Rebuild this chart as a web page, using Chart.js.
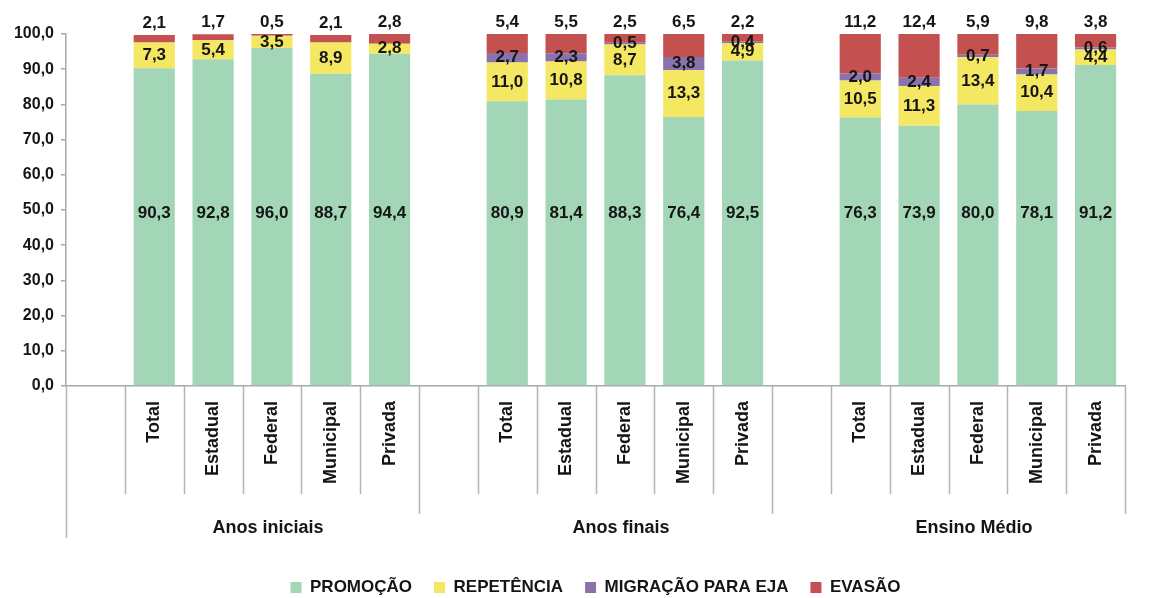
<!DOCTYPE html>
<html>
<head>
<meta charset="utf-8">
<script src="https://cdn.jsdelivr.net/npm/chart.js@4/dist/chart.umd.min.js"></script>
<style>
  html, body { margin: 0; padding: 0; background: #fff; }
  #wrap { width: 1171px; height: 598px; }
</style>
</head>
<body>
<div id="wrap"><canvas id="myChart"></canvas></div>
<script>
// categorias (vazias = espaço entre grupos)
const categorias = ['', 'Total', 'Estadual', 'Federal', 'Municipal', 'Privada',
                    '', 'Total', 'Estadual', 'Federal', 'Municipal', 'Privada',
                    '', 'Total', 'Estadual', 'Federal', 'Municipal', 'Privada'];
const grupos = ['Anos iniciais', 'Anos finais', 'Ensino Médio'];
const centroGrupo = [3, 9, 15];

const promocao   = [null, 90.3, 92.8, 96.0, 88.7, 94.4, null, 80.9, 81.4, 88.3, 76.4, 92.5, null, 76.3, 73.9, 80.0, 78.1, 91.2];
const repetencia = [null, 7.3, 5.4, 3.5, 8.9, 2.8,      null, 11.0, 10.8, 8.7, 13.3, 4.9,   null, 10.5, 11.3, 13.4, 10.4, 4.4];
const migracao   = [null, null, null, null, null, null, null, 2.7, 2.3, 0.5, 3.8, 0.4,      null, 2.0, 2.4, 0.7, 1.7, 0.6];
const evasao     = [null, 2.1, 1.7, 0.5, 2.1, 2.8,      null, 5.4, 5.5, 2.5, 6.5, 2.2,      null, 11.2, 12.4, 5.9, 9.8, 3.8];

const yTicks = [0, 10, 20, 30, 40, 50, 60, 70, 80, 90, 100];

const FONTE = '"Liberation Sans", Arial, sans-serif';
const fmt = v => v.toFixed(1).replace('.', ',');

// rótulos dos valores
const rotulos = {
  id: 'rotulos',
  afterDatasetsDraw(chart) {
    const ctx = chart.ctx;
    const y = chart.scales.y;
    ctx.save();
    ctx.font = 'bold 17px ' + FONTE;
    ctx.fillStyle = '#151515';
    ctx.textAlign = 'center';
    ctx.textBaseline = 'middle';
    chart.data.datasets.forEach((ds, di) => {
      const meta = chart.getDatasetMeta(di);
      meta.data.forEach((bar, i) => {
        const v = ds.data[i];
        if (v == null) return;
        let ty;
        if (di === 0) ty = y.getPixelForValue(49);
        else if (di === 3) ty = bar.y - 12;
        else ty = (bar.y + bar.base) / 2;
        ctx.fillText(fmt(v), bar.x, ty);
      });
    });
    ctx.restore();
  }
};

// linhas divisórias e nomes dos grupos
const eixoGrupos = {
  id: 'eixoGrupos',
  afterDraw(chart) {
    const ctx = chart.ctx;
    const x = chart.scales.x;
    const top = x.top;
    ctx.save();
    ctx.strokeStyle = '#b4b4b4';
    ctx.lineWidth = 1.5;
    for (let i = 0; i <= categorias.length; i++) {
      const px = Math.round(x.getPixelForValue(i - 0.5)) + 0.5;
      let len = 108;
      if (i === 0) len = 152;
      else if (i % 6 === 0) len = 128;
      ctx.beginPath();
      ctx.moveTo(px, top);
      ctx.lineTo(px, top + len);
      ctx.stroke();
    }
    ctx.font = 'bold 18px ' + FONTE;
    ctx.fillStyle = '#151515';
    ctx.textAlign = 'center';
    ctx.textBaseline = 'middle';
    grupos.forEach((g, k) => {
      ctx.fillText(g, x.getPixelForValue(centroGrupo[k]) - 4, top + 142);
    });
    ctx.restore();
  }
};

const ctx = document.getElementById('myChart');

new Chart(ctx, {
  type: 'bar',
  data: {
    labels: categorias,
    datasets: [
      { label: 'PROMOÇÃO', data: promocao, backgroundColor: '#a2d6b6' },
      { label: 'REPETÊNCIA', data: repetencia, backgroundColor: '#f4e862' },
      { label: 'MIGRAÇÃO PARA EJA', data: migracao, backgroundColor: '#8a72ab' },
      { label: 'EVASÃO', data: evasao, backgroundColor: '#c55050' }
    ]
  },
  options: {
    responsive: true,
    maintainAspectRatio: false,
    animation: false,
    datasets: {
      bar: { barPercentage: 0.7, categoryPercentage: 1.0 }
    },
    layout: { padding: { top: 34, right: 46, left: 0, bottom: -8 } },
    scales: {
      x: {
        stacked: true,
        grid: { display: false, drawTicks: false },
        border: { display: true, color: '#a8a8a8', width: 1.5 },
        ticks: {
          autoSkip: false,
          minRotation: 90,
          maxRotation: 90,
          padding: 15,
          color: '#151515',
          font: { family: FONTE, size: 18, weight: 'bold' }
        },
        afterFit(scale) { scale.height = 171; }
      },
      y: {
        stacked: true,
        min: 0,
        max: 100,
        afterBuildTicks(scale) { scale.ticks = yTicks.map(v => ({ value: v })); },
        grid: { drawOnChartArea: false, drawTicks: true, tickLength: 5, color: '#a8a8a8', lineWidth: 1.5 },
        border: { display: true, color: '#a8a8a8', width: 1.5 },
        ticks: {
          padding: 7,
          color: '#151515',
          font: { family: FONTE, size: 16, weight: 'bold' },
          callback: v => fmt(v)
        },
        afterFit(scale) { scale.width = 66; }
      }
    },
    plugins: {
      tooltip: { enabled: false },
      legend: {
        position: 'bottom',
        fullSize: false,
        labels: {
          boxWidth: 11,
          boxHeight: 11,
          padding: 22,
          color: '#151515',
          font: { family: FONTE, size: 17, weight: 'bold' }
        }
      }
    }
  },
  plugins: [rotulos, eixoGrupos]
});
</script>
</body>
</html>
